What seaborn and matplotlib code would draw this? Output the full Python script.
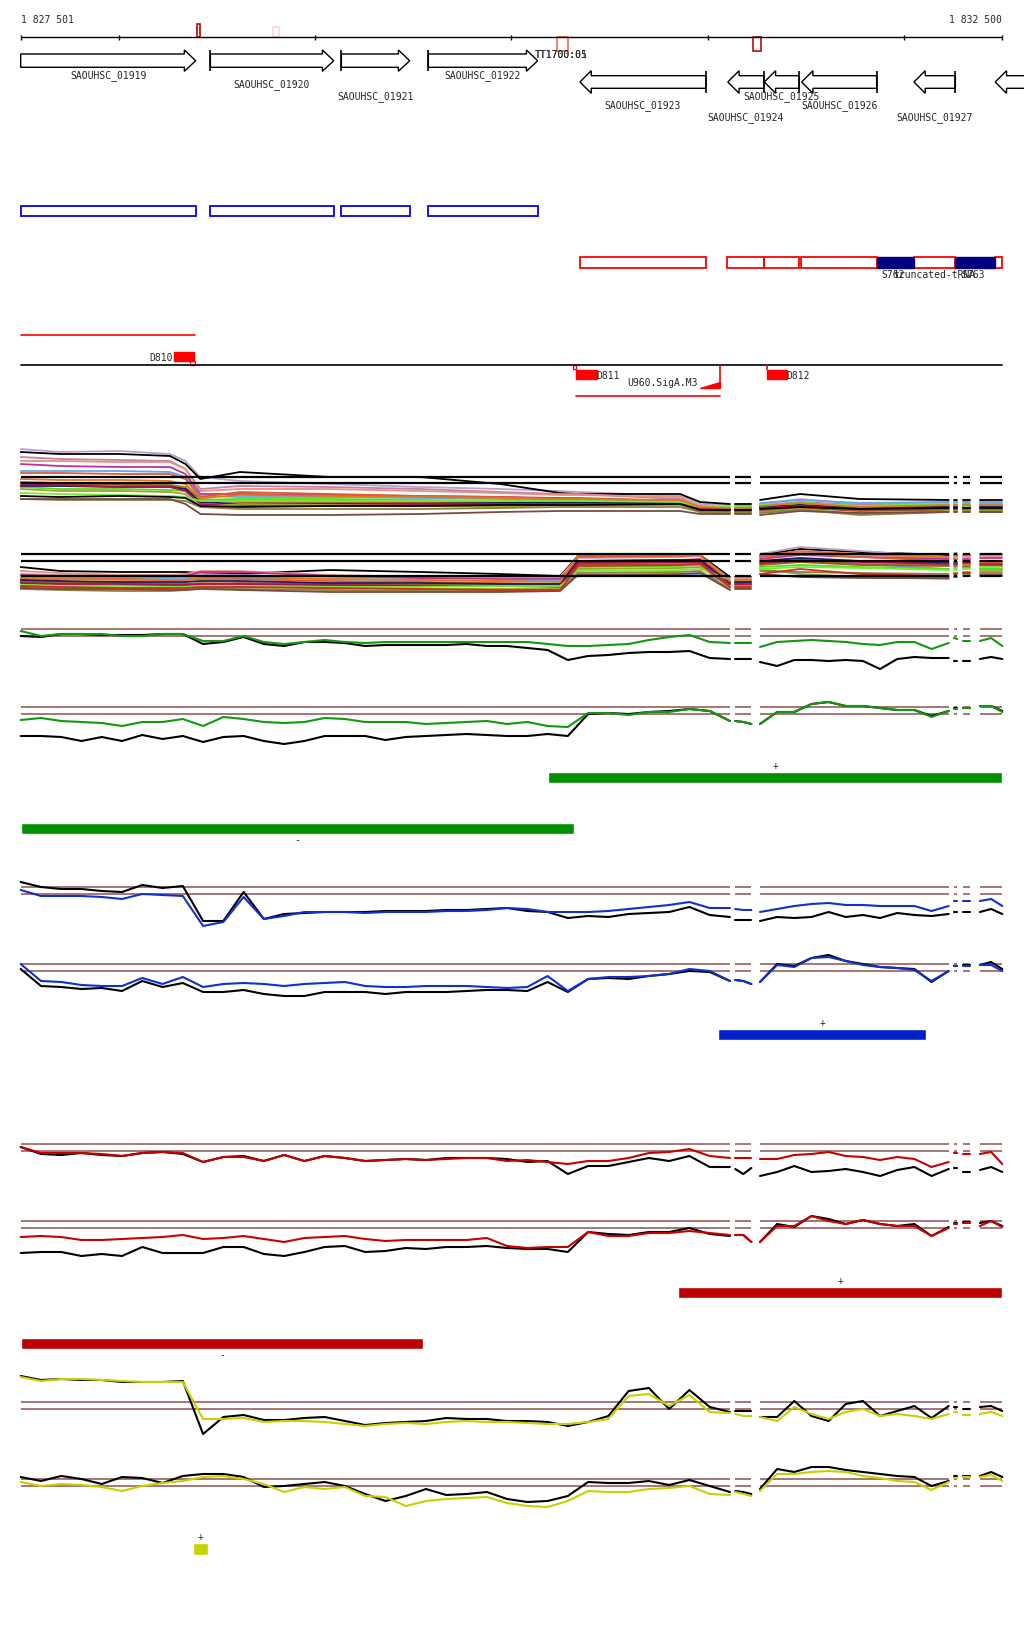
import numpy as np
import pandas as pd
import matplotlib
matplotlib.use("Agg")
import matplotlib.pyplot as plt
from matplotlib.patches import Polygon, Rectangle
import seaborn as sns

# ---------------------------------------------------------------- view / ruler
view_start, view_end = 1827501, 1832500
ruler_ticks = [1828000, 1829000, 1830000, 1831000, 1832000]

# ---------------------------------------------------------------- genes
gene_names = ["SAOUHSC_01919", "SAOUHSC_01920", "SAOUHSC_01921", "SAOUHSC_01922",
              "SAOUHSC_01923", "SAOUHSC_01924", "SAOUHSC_01925", "SAOUHSC_01926",
              "SAOUHSC_01927", ""]
gene_starts = [1827501, 1828467, 1829134, 1829577, 1830349, 1831102, 1831288, 1831478, 1832050, 1832464]
gene_ends = [1828392, 1829095, 1829482, 1830134, 1830991, 1831285, 1831465, 1831860, 1832261, 1832700]
gene_strands = ["+", "+", "+", "+", "-", "-", "-", "-", "-", "-"]
ncrna_names = ["S762", "S763"]
ncrna_starts = [1831860, 1832261]
ncrna_ends = [1832050, 1832462]
terminator_names = ["TT1700:01", "TT1700:05"]
terminator_pos = 1830120

# small features on the ruler
mark_starts = [1828400, 1828786, 1830234, 1831229]
mark_ends = [1828416, 1828818, 1830290, 1831270]

# ---------------------------------------------------------------- segments with data
segments = [(1827501, 1831113), (1831140, 1831222), (1831266, 1832227),
            (1832254, 1832271), (1832298, 1832337), (1832386, 1832500)]
seg_points = [36, 3, 12, 2, 2, 3]

# ---------------------------------------------------------------- bundle tracks (coarse knots)
bundle_pos = [1827501, 1827701, 1828007, 1828261, 1828340, 1828416, 1828618, 1829076, 1829535,
              1829942, 1830248, 1830339, 1830859, 1830961, 1831113, 1831140, 1831222, 1831266,
              1831470, 1831775, 1832227, 1832254, 1832271, 1832298, 1832337, 1832386, 1832500]
bundle_seg = [0] * 15 + [1] * 2 + [2] * 4 + [3] * 2 + [4] * 2 + [5] * 2

bundle_a = [
    [80, 77, 78, 75, 68, 52, 48, 45, 42, 40, 38, 37, 33, 25, 24, 25, 25, 25, 30, 25, 27, 27, 27, 27, 27, 27, 26],
    [77, 75, 75, 73, 65, 50, 57, 52, 52, 45, 36, 35, 35, 27, 25, 25, 25, 29, 35, 30, 29, 29, 29, 29, 29, 29, 29],
    [72, 70, 69, 68, 60, 40, 43, 42, 40, 37, 35, 35, 30, 23, 22, 23, 23, 24, 27, 24, 25, 25, 25, 25, 25, 25, 25],
    [68, 68, 67, 67, 60, 38, 40, 40, 38, 36, 34, 34, 32, 22, 22, 22, 22, 23, 26, 23, 24, 24, 24, 24, 24, 24, 24],
    [65, 63, 62, 62, 55, 35, 35, 34, 33, 32, 31, 31, 28, 20, 20, 20, 20, 21, 24, 21, 22, 22, 22, 22, 22, 22, 22],
    [58, 58, 58, 57, 52, 33, 32, 32, 31, 30, 29, 29, 28, 21, 21, 21, 21, 26, 29, 26, 27, 27, 27, 27, 27, 27, 27],
    [56, 56, 55, 55, 50, 32, 37, 35, 33, 32, 30, 30, 28, 21, 20, 20, 20, 22, 25, 22, 23, 23, 23, 23, 23, 20, 20],
    [47, 46, 45, 44, 42, 30, 28, 28, 27, 27, 27, 27, 26, 18, 18, 18, 18, 19, 22, 19, 20, 20, 20, 20, 20, 20, 20],
    [46, 45, 44, 43, 40, 29, 27, 27, 27, 26, 26, 26, 25, 18, 17, 17, 17, 18, 21, 18, 19, 19, 19, 19, 19, 19, 19],
    [42, 40, 40, 39, 38, 29, 30, 30, 29, 28, 28, 28, 27, 22, 22, 22, 22, 23, 26, 23, 24, 24, 24, 24, 24, 24, 24],
    [43, 43, 42, 42, 40, 27, 25, 25, 25, 26, 27, 27, 26, 19, 19, 19, 19, 22, 24, 21, 22, 22, 22, 22, 22, 22, 22],
    [45, 44, 42, 42, 38, 25, 24, 24, 25, 25, 25, 25, 25, 20, 20, 20, 20, 21, 23, 20, 21, 21, 21, 21, 21, 21, 21],
    [40, 38, 38, 37, 35, 22, 25, 24, 23, 22, 24, 24, 24, 17, 16, 16, 16, 17, 20, 15, 18, 18, 18, 18, 18, 18, 18],
    [36, 35, 34, 33, 32, 28, 28, 28, 28, 28, 28, 28, 27, 22, 22, 22, 22, 24, 26, 23, 25, 25, 25, 23, 23, 21, 21],
    [30, 29, 29, 29, 28, 22, 20, 20, 20, 21, 22, 22, 22, 17, 16, 16, 16, 16, 19, 14, 17, 17, 17, 17, 17, 17, 17],
    [30, 30, 30, 30, 25, 15, 14, 14, 15, 17, 18, 18, 18, 15, 15, 15, 15, 14, 18, 16, 17, 17, 17, 17, 17, 17, 17],
    [50, 49, 49, 48, 45, 31, 34, 33, 32, 31, 30, 30, 29, 22, 21, 21, 21, 23, 26, 22, 24, 24, 24, 24, 24, 24, 24],
    [33, 32, 33, 32, 31, 23, 22, 23, 23, 24, 24, 24, 25, 19, 19, 19, 19, 20, 22, 20, 21, 21, 21, 21, 21, 21, 21],
]
bundle_a_colours = ["#b8a0c8", "#000000", "#c080b0", "#e8907a", "#c03090", "#60a8f0",
                    "#e05a30", "#a08010", "#a0522d", "#50e010", "#1a1a60", "#b0105a",
                    "#a0a030", "#70f030", "#8c8040", "#7a4a40", "#e07820", "#000000"]
bundle_a_refs = [51.7, 46]

bundle_b = [
    [32, 28, 27, 27, 27, 26, 25, 29, 27, 25, 23, 43, 44, 44, 22, 22, 22, 44, 50, 47, 44, 44, 44, 44, 44, 44, 44],
    [25, 24, 23, 23, 24, 25, 24, 22, 21, 22, 22, 41, 42, 43, 20, 21, 21, 45, 52, 48, 42, 46, 46, 42, 42, 44, 44],
    [28, 26, 24, 24, 25, 28, 28, 24, 22, 22, 22, 42, 43, 43, 18, 20, 20, 42, 47, 44, 41, 42, 42, 43, 43, 43, 43],
    [24, 23, 22, 22, 23, 27, 27, 23, 21, 20, 20, 38, 39, 40, 17, 18, 18, 40, 44, 42, 40, 40, 40, 40, 40, 41, 41],
    [22, 22, 21, 21, 21, 21, 21, 20, 19, 18, 18, 23, 24, 25, 16, 16, 16, 38, 40, 35, 30, 26, 26, 25, 25, 30, 30],
    [20, 20, 20, 19, 19, 20, 20, 18, 17, 16, 15, 42, 43, 44, 15, 15, 15, 42, 45, 42, 38, 40, 40, 38, 38, 37, 37],
    [18, 17, 16, 15, 15, 16, 15, 14, 14, 14, 13, 35, 37, 38, 15, 16, 16, 35, 38, 35, 34, 35, 35, 34, 34, 34, 34],
    [17, 16, 15, 15, 15, 15, 16, 15, 14, 13, 12, 34, 35, 35, 14, 14, 14, 34, 37, 34, 33, 33, 33, 32, 32, 33, 33],
    [15, 14, 14, 13, 13, 14, 14, 13, 13, 14, 14, 32, 33, 34, 17, 18, 18, 32, 34, 32, 30, 31, 31, 31, 31, 30, 30],
    [19, 18, 17, 17, 17, 18, 18, 16, 16, 15, 15, 38, 39, 39, 16, 17, 17, 38, 41, 38, 36, 37, 37, 37, 37, 38, 38],
    [16, 15, 15, 14, 14, 15, 15, 14, 13, 13, 13, 36, 37, 37, 15, 15, 15, 36, 39, 37, 35, 35, 35, 36, 36, 35, 35],
    [12, 11, 10, 10, 10, 12, 12, 11, 10, 10, 10, 30, 31, 32, 12, 13, 13, 30, 25, 22, 20, 24, 24, 25, 25, 28, 28],
    [14, 13, 12, 12, 12, 13, 13, 12, 12, 13, 13, 28, 29, 30, 19, 19, 19, 30, 32, 31, 29, 29, 29, 30, 30, 32, 32],
    [10, 9, 8, 8, 9, 11, 10, 9, 8, 8, 9, 26, 27, 28, 10, 11, 11, 28, 27, 26, 25, 26, 26, 27, 27, 26, 26],
    [11, 10, 10, 9, 9, 10, 9, 7, 7, 7, 8, 24, 25, 26, 9, 10, 10, 25, 22, 21, 21, 22, 22, 23, 23, 24, 24],
    [21, 20, 19, 19, 19, 21, 22, 20, 19, 18, 17, 44, 44, 44, 18, 19, 19, 43, 48, 45, 42, 43, 43, 44, 44, 45, 45],
    [13, 12, 11, 11, 11, 12, 12, 11, 10, 9, 9, 33, 34, 35, 12, 12, 12, 25, 30, 25, 23, 25, 25, 26, 26, 23, 23],
]
bundle_b_colours = ["#000000", "#b8a0c8", "#e8907a", "#c03090", "#60a8f0", "#e05a30",
                    "#a08010", "#a0522d", "#50e010", "#1a1a60", "#b0105a", "#a0a030",
                    "#70f030", "#8c8040", "#7a4a40", "#e07820", "#c83020"]
bundle_b_refs = [45, 37.7, 22.7]

# ---------------------------------------------------------------- paired signal tracks
pair_refs = [49.7, 42.7]

green_top = [48, 43, 45, 45, 45, 43, 43, 45, 45, 38, 38, 43, 37, 35, 37, 39, 37, 36, 37, 37, 37, 37, 37, 37, 37, 37, 35, 33, 33, 34, 35, 39, 42, 44, 37, 36,
             36, 36, 36, 32, 37, 38, 39, 38, 37, 35, 34, 37, 37, 30, 36, 41, 40, 38, 38, 38, 41, 33]
green_top_ref = [43, 42, 45, 45, 44, 44, 44, 45, 45, 35, 37, 42, 35, 33, 37, 37, 36, 33, 34, 34, 34, 34, 35, 33, 33, 31, 29, 19, 23, 24, 26, 27, 27, 28, 21, 20,
                 20, 20, 20, 17, 13, 19, 19, 18, 19, 18, 10, 20, 22, 21, 21, 18, 18, 18, 18, 20, 22, 20]
green_bot = [37, 39, 36, 35, 34, 31, 35, 35, 38, 31, 40, 38, 35, 34, 35, 39, 38, 35, 35, 35, 33, 34, 35, 36, 33, 35, 31, 30, 44, 44, 42, 45, 45, 48, 46, 36,
             36, 35, 33, 33, 45, 45, 53, 55, 51, 51, 49, 47, 47, 40, 46, 48, 48, 49, 49, 51, 51, 45]
green_bot_ref = [21, 21, 20, 16, 20, 16, 22, 18, 21, 15, 20, 21, 16, 13, 16, 21, 21, 21, 17, 20, 21, 22, 23, 22, 21, 21, 23, 21, 43, 44, 43, 45, 46, 48, 46, 36,
                 36, 35, 33, 33, 45, 45, 53, 55, 51, 51, 49, 47, 47, 41, 46, 49, 49, 49, 49, 51, 51, 46]
blue_top = [47, 41, 41, 41, 40, 38, 43, 42, 41, 11, 15, 40, 18, 21, 25, 25, 25, 24, 25, 25, 25, 26, 26, 27, 29, 28, 25, 25, 25, 26, 28, 30, 32, 35, 29, 29,
            28, 27, 27, 25, 28, 31, 33, 34, 32, 32, 31, 31, 31, 26, 31, 36, 36, 36, 36, 36, 38, 31]
blue_top_ref = [55, 50, 48, 48, 46, 45, 52, 49, 51, 16, 16, 45, 18, 23, 24, 25, 25, 25, 26, 26, 26, 27, 27, 28, 29, 26, 25, 19, 21, 20, 23, 24, 25, 30, 22, 20,
                17, 17, 17, 16, 20, 19, 20, 25, 20, 22, 19, 24, 22, 21, 23, 25, 25, 25, 25, 25, 28, 23]
blue_bot = [50, 33, 32, 29, 28, 28, 36, 30, 37, 27, 30, 31, 30, 28, 30, 31, 32, 28, 27, 27, 28, 28, 28, 27, 26, 27, 38, 23, 35, 37, 37, 38, 40, 45, 43, 33,
            34, 33, 30, 32, 49, 47, 56, 57, 53, 49, 47, 46, 44, 33, 43, 48, 48, 48, 48, 49, 49, 43]
blue_bot_ref = [45, 28, 27, 25, 26, 23, 33, 27, 31, 22, 22, 24, 20, 18, 18, 22, 22, 22, 20, 22, 22, 22, 23, 24, 24, 23, 32, 22, 35, 36, 35, 38, 40, 43, 42, 33,
                34, 33, 30, 32, 50, 48, 56, 59, 53, 50, 47, 46, 45, 32, 43, 48, 48, 49, 49, 49, 52, 45]
red_top = [47, 41, 41, 41, 40, 38, 41, 42, 41, 32, 37, 37, 33, 39, 33, 38, 36, 33, 34, 35, 34, 35, 36, 36, 33, 34, 32, 30, 33, 33, 36, 41, 42, 45, 38, 36,
           36, 36, 36, 35, 35, 39, 40, 42, 38, 37, 34, 37, 35, 27, 32, 41, 41, 40, 40, 40, 42, 30]
red_top_ref = [47, 40, 39, 41, 39, 38, 41, 42, 40, 32, 37, 38, 33, 39, 33, 38, 36, 33, 34, 35, 34, 36, 36, 36, 35, 32, 33, 20, 28, 28, 32, 36, 33, 38, 27, 27,
               25, 20, 26, 18, 22, 28, 22, 23, 25, 22, 18, 24, 27, 18, 25, 26, 26, 22, 22, 24, 27, 22]
red_bot = [34, 35, 34, 31, 31, 32, 33, 34, 36, 32, 33, 35, 32, 29, 33, 34, 35, 32, 30, 31, 31, 31, 31, 33, 25, 23, 24, 24, 39, 35, 35, 38, 38, 40, 38, 36,
           36, 36, 29, 29, 45, 45, 55, 50, 47, 51, 47, 45, 45, 35, 43, 47, 47, 48, 48, 45, 50, 44]
red_bot_ref = [18, 19, 19, 15, 17, 15, 24, 18, 18, 18, 24, 24, 17, 15, 19, 24, 25, 19, 20, 23, 22, 24, 24, 25, 23, 22, 22, 19, 39, 37, 36, 39, 39, 43, 37, 35,
               36, 36, 29, 29, 47, 44, 55, 52, 47, 51, 47, 45, 47, 35, 44, 48, 48, 49, 49, 48, 50, 45]
yellow_top = [75, 71, 73, 73, 72, 71, 70, 70, 70, 33, 33, 34, 30, 31, 31, 30, 28, 26, 28, 29, 28, 30, 31, 30, 30, 29, 28, 28, 30, 33, 56, 58, 46, 57, 40, 39,
              38, 36, 36, 35, 31, 45, 38, 33, 40, 43, 36, 38, 36, 33, 38, 40, 40, 37, 37, 38, 40, 36]
yellow_top_ref = [76, 72, 73, 72, 72, 70, 70, 70, 71, 18, 35, 37, 32, 32, 34, 35, 31, 27, 29, 30, 31, 34, 33, 33, 31, 31, 30, 26, 30, 36, 61, 64, 43, 62, 45, 40,
                  41, 41, 41, 35, 35, 51, 36, 31, 48, 51, 36, 41, 46, 34, 46, 45, 45, 43, 43, 45, 46, 41]
yellow_bot = [47, 43, 45, 44, 42, 38, 43, 46, 48, 52, 53, 50, 45, 37, 42, 40, 42, 33, 32, 23, 28, 30, 31, 32, 26, 23, 22, 28, 38, 37, 37, 40, 41, 43, 35, 34,
              37, 35, 33, 38, 55, 55, 57, 58, 57, 53, 51, 48, 47, 39, 47, 51, 51, 52, 52, 52, 54, 48]
yellow_bot_ref = [52, 48, 53, 50, 45, 52, 51, 46, 53, 55, 55, 52, 42, 43, 45, 47, 43, 35, 28, 33, 40, 34, 35, 37, 30, 27, 28, 33, 47, 46, 46, 48, 44, 49, 43, 37,
                  38, 37, 35, 40, 60, 57, 62, 62, 59, 57, 55, 53, 52, 43, 48, 53, 53, 53, 53, 53, 57, 52]

# ---------------------------------------------------------------- strand segments
green_bar_starts, green_bar_ends, green_bar_strands = [1830187, 1827501], [1832500, 1830317], ["+", "-"]
blue_bar_starts, blue_bar_ends, blue_bar_strands = [1831054], [1832112], ["+"]
red_bar_starts, red_bar_ends, red_bar_strands = [1830848, 1827501], [1832500, 1829550], ["+", "-"]
yellow_bar_starts, yellow_bar_ends, yellow_bar_strands = [1828380], [1828456], ["+"]

# ================================================================ drawing
FIG_W, FIG_H = 1024, 1640
px_per_bp = 981.6 / (view_end - view_start)
x_left = view_start - 20.7 / px_per_bp
x_right = view_start + (FIG_W - 20.7) / px_per_bp
hl = 11.3 / px_per_bp  # arrow head length in bp

sns.set_style("white")
plt.rcParams["font.family"] = ["DejaVu Sans Mono"]
plt.rcParams["font.size"] = 7

fig = plt.figure(figsize=(FIG_W / 100, FIG_H / 100), dpi=100)
ax = fig.add_axes([0, 0, 1, 1])
ax.set_xlim(x_left, x_right)
ax.set_ylim(FIG_H, 0)
ax.set_axis_off()

# ruler
ax.plot([view_start, view_end], [38.3, 38.3], color="black", lw=1)
ax.vlines([view_start] + ruler_ticks + [view_end], 36.3, 40.5, color="black", lw=1)
ax.text(view_start, 20, "1 827 501", ha="left", va="center")
ax.text(view_end, 20, "1 832 500", ha="right", va="center")
mark_rows = [(25, 38.3), (28.3, 38.3), (38.3, 51.7), (38.3, 52.3)]
mark_colours = ["#c00000", "#f6dccf", "#f07050", "#b01010"]
for s, e, (y0, y1), c in zip(mark_starts, mark_ends, mark_rows, mark_colours):
    ax.add_patch(Rectangle((s, y0), e - s, y1 - y0, fill=False, edgecolor=c, lw=1.2))
for name in terminator_names:
    ax.text(terminator_pos, 55, name, ha="left", va="center")

# gene arrows
label_rows = [76, 85, 97, 76, 106, 118, 97, 106, 118, 0]
for name, s, e, strand, ly in zip(gene_names, gene_starts, gene_ends, gene_strands, label_rows):
    if strand == "+":
        pts = [(s, 55), (e - hl, 55), (e - hl, 51), (e, 61.7), (e - hl, 72.3), (e - hl, 68.3), (s, 68.3)]
        bar_x, y0, y1 = s, 51, 72.3
    else:
        pts = [(e, 76.7), (s + hl, 76.7), (s + hl, 71.7), (s, 83), (s + hl, 94.3), (s + hl, 89.3), (e, 89.3)]
        bar_x, y0, y1 = e, 71.7, 94.3
    ax.add_patch(Polygon(pts, closed=True, facecolor="white", edgecolor="black", lw=1))
    if view_start < bar_x < view_end:
        ax.vlines(bar_x, y0, y1, color="black", lw=1.2)
    if name:
        ax.text((s + e) / 2, ly, name, ha="center", va="center")

# CDS boxes
for s, e, strand in zip(gene_starts, gene_ends, gene_strands):
    if strand == "+":
        ax.add_patch(Rectangle((s, 207.3), e - s, 10, fill=False, edgecolor="#0000ee", lw=1.3))
    else:
        ax.add_patch(Rectangle((s - 2, 258.3), min(e, view_end) - s + 2, 10.4, fill=False, edgecolor="#ff0000", lw=1.3))
for name, s, e in zip(ncrna_names, ncrna_starts, ncrna_ends):
    ax.add_patch(Rectangle((s, 258.3), e - s, 10.4, facecolor="#000080", edgecolor="#000080", lw=1))
ax.text(1831886, 275.3, ncrna_names[0], ha="left", va="center")
ax.text(1831946, 275.3, "truncated-tRNA", ha="left", va="center")
ax.text(1832293, 275.3, ncrna_names[1], ha="left", va="center")

# TSS / promoter track
ax.plot([1827501, 1828389], [336.3, 336.3], color="#ff0000", lw=1.2)
ax.plot([view_start, view_end], [366.3, 366.3], color="black", lw=1.2)
ax.add_patch(Rectangle((1828282, 353), 102, 8.7, color="#ff0000"))
ax.add_patch(Rectangle((1828365, 361.7), 22, 4.6, fill=False, edgecolor="#ff0000", lw=1))
ax.text(1828275, 357.7, "D810", ha="right", va="center")
ax.add_patch(Rectangle((1830314, 366.3), 17, 4, fill=False, edgecolor="#ff0000", lw=1))
ax.add_patch(Rectangle((1830329, 371), 105, 9, color="#ff0000"))
ax.text(1830434, 376, "D811", ha="left", va="center")
ax.vlines(1831061, 366.3, 389.3, color="#ff0000", lw=1.2)
ax.add_patch(Polygon([(1830960, 389.3), (1831061, 389.3), (1831061, 382.7)], color="#ff0000"))
ax.plot([1830329, 1831061], [397.3, 397.3], color="#ff0000", lw=1.2)
ax.text(1830772, 383.3, "U960.SigA.M3", ha="center", va="center")
ax.vlines(1831300, 366.3, 371, color="#ff0000", lw=1.2)
ax.add_patch(Rectangle((1831300, 371), 102, 9, color="#ff0000"))
ax.text(1831402, 376, "D812", ha="left", va="center")

# strand bars
def strand_bars(starts, ends, strands, top, height, colour):
    for s, e, st in zip(starts, ends, strands):
        y = top if st == "+" else top + 50.7
        ax.broken_barh([(s, e - s)], (y, height), facecolors=colour)
        ty = y - 7 if st == "+" else y + height + 5.5
        ax.text((s + e) / 2, ty, "+" if st == "+" else "-", ha="center", va="center", fontsize=7)

strand_bars(green_bar_starts, green_bar_ends, green_bar_strands, 773.3, 10.8, "#009000")
strand_bars(blue_bar_starts, blue_bar_ends, blue_bar_strands, 1030, 10.5, "#0022c8")
strand_bars(red_bar_starts, red_bar_ends, red_bar_strands, 1288.3, 11, "#bb0000")
strand_bars(yellow_bar_starts, yellow_bar_ends, yellow_bar_strands, 1544, 12, "#c8d200")

# signal tracks
grid_pos = np.concatenate([np.linspace(s, e, n) for (s, e), n in zip(segments, seg_points)])
grid_seg = np.repeat(np.arange(len(segments)), seg_points)


def track_axes(bottom, height=100):
    a = fig.add_axes([0, 1 - bottom / FIG_H, 1, height / FIG_H])
    return a


def finish(a, height=100):
    a.set_xlim(x_left, x_right)
    a.set_ylim(0, height)
    a.set_axis_off()


def bundle_track(bottom, lines, colours, refs):
    a = track_axes(bottom)
    frames = []
    for i, vals in enumerate(lines):
        frames.append(pd.DataFrame({"pos": bundle_pos, "signal": vals, "seg": bundle_seg, "line": f"l{i}"}))
    df = pd.concat(frames, ignore_index=True)
    palette = {f"l{i}": c for i, c in enumerate(colours)}
    sns.lineplot(data=df, x="pos", y="signal", hue="line", units="seg", estimator=None,
                 palette=palette, linewidth=1.3, legend=False, sort=False, ax=a)
    for s, e in segments:
        a.hlines(refs, s, e, color="black", lw=1.6, zorder=5)
    finish(a)


def pair_track(bottom, colour_vals, black_vals, colour):
    a = track_axes(bottom)
    for s, e in segments:
        a.hlines(pair_refs, s, e, color="#a06a6a", lw=1.3, zorder=0)
    n = len(grid_pos)
    df = pd.DataFrame({"pos": np.tile(grid_pos, 2), "signal": colour_vals + black_vals,
                       "seg": np.tile(grid_seg, 2), "series": ["colour"] * n + ["black"] * n})
    sns.lineplot(data=df, x="pos", y="signal", hue="series", units="seg", estimator=None,
                 hue_order=["black", "colour"], palette={"colour": colour, "black": "black"},
                 linewidth=1.5, legend=False, sort=False, ax=a)
    finish(a)


bundle_track(530, bundle_a, bundle_a_colours, bundle_a_refs)
bundle_track(600, bundle_b, bundle_b_colours, bundle_b_refs)
pair_track(680, green_top, green_top_ref, "#119911")
pair_track(758, green_bot, green_bot_ref, "#119911")
pair_track(938, blue_top, blue_top_ref, "#1030d0")
pair_track(1015, blue_bot, blue_bot_ref, "#1030d0")
pair_track(1195, red_top, red_top_ref, "#c80000")
pair_track(1272, red_bot, red_bot_ref, "#c80000")
pair_track(1453, yellow_top, yellow_top_ref, "#c8d000")
pair_track(1530, yellow_bot, yellow_bot_ref, "#c8d000")

fig.savefig("out.png", dpi=100, facecolor="white")
